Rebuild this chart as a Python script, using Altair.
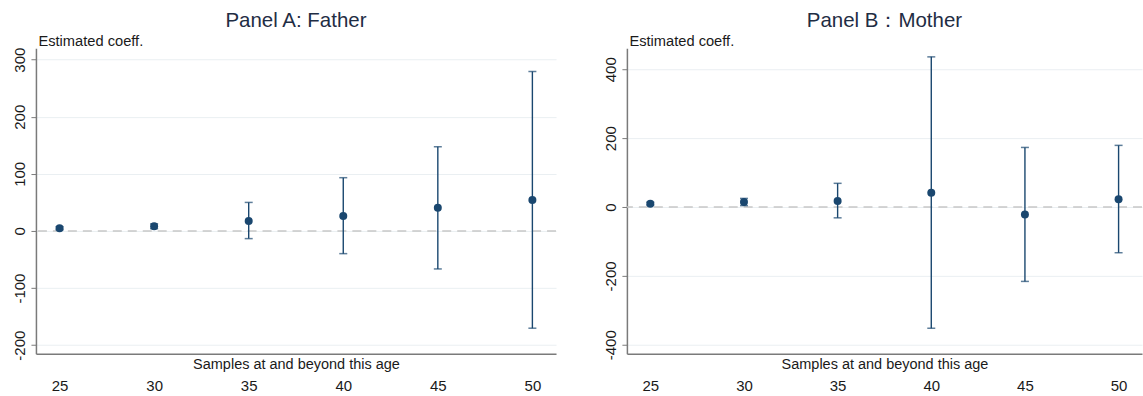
import altair as alt
import pandas as pd

# ---- data ----
ages = [25, 30, 35, 40, 45, 50]

father_coef = [4.7, 8.2, 17.5, 26.2, 40.8, 54.2]
father_lo = [2.0, 4.0, -13.4, -39.7, -66.5, -170.3]
father_hi = [7.5, 12.5, 50.0, 93.3, 147.5, 279.3]

mother_coef = [9.8, 14.7, 17.7, 41.3, -21.6, 22.6]
mother_lo = [6.0, 4.0, -31.4, -352.0, -216.0, -132.7]
mother_hi = [14.0, 25.0, 68.8, 436.0, 173.0, 179.0]

father_ticks = [-200, -100, 0, 100, 200, 300]
mother_ticks = [-400, -200, 0, 200, 400]

NAVY = "#1a476f"
FONT = "Liberation Sans"
TXT = "#1a1a1a"


def panel(title, coef, lo, hi, ydomain, yticks, width, height):
    df = pd.DataFrame({"age": ages, "coef": coef, "lo": lo, "hi": hi})
    zero_df = pd.DataFrame({"age": [ages[0]], "coef": [0]})

    xscale = alt.Scale(domain=[23.75, 51.25], nice=False, zero=False)
    xaxis = alt.Axis(
        values=ages, title="Samples at and beyond this age", grid=False,
        ticks=False, labelPadding=25, labelFontSize=15, labelFont=FONT,
        labelColor=TXT, titleFontSize=14.5, titleFont=FONT, titleColor=TXT,
        titleFontWeight="normal", titleY=15, titleBaseline="alphabetic",
        domainColor="#7a7a7a", domainWidth=1.5, labelFlush=False,
    )
    yscale = alt.Scale(domain=ydomain, nice=False, zero=False)
    yaxis = alt.Axis(
        values=yticks, title="Estimated coeff.", titleAngle=0,
        titleAlign="left", titleX=2, titleY=-3, titleBaseline="alphabetic",
        titleFontSize=14.7, titleFont=FONT, titleColor=TXT,
        titleFontWeight="normal",
        labelAngle=270, labelAlign="center", labelBaseline="alphabetic",
        labelPadding=6, tickSize=5, tickColor="#7a7a7a",
        labelFontSize=15, labelFont=FONT, labelColor=TXT,
        labelExpr="replace(datum.label, '\u2212', '-')",
        grid=True, gridColor="#eaeff2", gridWidth=1,
        domainColor="#7a7a7a", domainWidth=1.5, labelFlush=False,
    )

    zero_rule = alt.Chart(zero_df).mark_rule(
        color="#c8c8c8", strokeDash=[9, 6], strokeWidth=1.6
    ).encode(
        y=alt.Y("coef:Q", scale=yscale, axis=yaxis),
    )
    bars = alt.Chart(df).mark_rule(color=NAVY, strokeWidth=1.4).encode(
        x=alt.X("age:Q", scale=xscale, axis=xaxis),
        y=alt.Y("lo:Q", scale=yscale, axis=yaxis),
        y2="hi:Q",
    )
    cap_lo = alt.Chart(df).mark_tick(
        orient="horizontal", size=8, thickness=1.5, color=NAVY
    ).encode(
        x=alt.X("age:Q", scale=xscale, axis=xaxis),
        y=alt.Y("lo:Q", scale=yscale, axis=yaxis),
    )
    cap_hi = alt.Chart(df).mark_tick(
        orient="horizontal", size=8, thickness=1.5, color=NAVY
    ).encode(
        x=alt.X("age:Q", scale=xscale, axis=xaxis),
        y=alt.Y("hi:Q", scale=yscale, axis=yaxis),
    )
    pts = alt.Chart(df).mark_circle(size=64, opacity=1, color=NAVY).encode(
        x=alt.X("age:Q", scale=xscale, axis=xaxis),
        y=alt.Y("coef:Q", scale=yscale, axis=yaxis),
    )
    return alt.layer(zero_rule, bars, cap_lo, cap_hi, pts).properties(
        width=width, height=height,
        title=alt.TitleParams(
            title, fontSize=20.5, font=FONT, color="#1f2d44",
            fontWeight="normal", anchor="middle", offset=2,
        ),
    )


panel_a = panel("Panel A: Father", father_coef, father_lo, father_hi,
                [-215, 320], father_ticks, 521, 306)
panel_b = panel("Panel B\uff1aMother", mother_coef, mother_lo, mother_hi,
                [-426, 461], mother_ticks, 516, 306)

chart = alt.hconcat(panel_a, panel_b, spacing=46).properties(
    padding={"left": 12, "top": 10, "right": 0, "bottom": 0},
    background="white",
).configure_view(stroke=None)

chart.save("out.html", embed_options={"renderer": "svg", "actions": False})
